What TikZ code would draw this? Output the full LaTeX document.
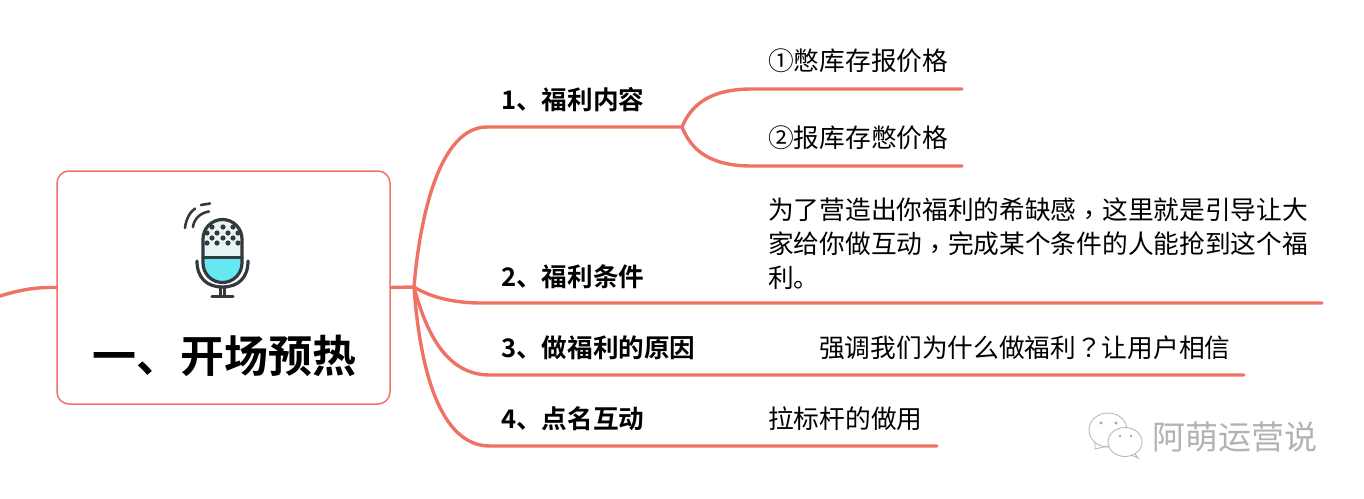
\documentclass[tikz,border=0pt]{standalone}
\usepackage{fontspec}
\setmainfont{Noto Sans CJK SC}
\newfontfamily\cjkbold{Noto Sans CJK SC Bold}
\newfontfamily\cjkpunct{Noto Sans CJK TC}
\newcommand{\lowcomma}{\raisebox{-5pt}{\cjkpunct ，}}
\definecolor{branch}{HTML}{EE7364}
\definecolor{micdark}{HTML}{333A3D}
\definecolor{miccyan}{HTML}{66E8F3}
\definecolor{miclight}{HTML}{E8F3F5}
\tikzset{
  wire/.style={draw=branch,line width=3.4pt,line cap=round},
  txt/.style={anchor=west,inner sep=0pt,font=\fontsize{25.7}{34}\selectfont},
  head/.style={anchor=west,inner sep=0pt,font=\fontsize{25.6}{34}\cjkbold},
  mic/.style={draw=micdark,line width=3.2pt,line cap=round},
  dot/.style={fill=micdark,draw=none},
}
\begin{document}
\begin{tikzpicture}[x=1pt,y=-1pt]
\useasboundingbox (0,0) rectangle (1364,498);
% central box
\node[draw=branch,line width=1.5pt,fill=white,rounded corners=12pt,minimum width=333pt,minimum height=233pt,inner sep=0pt] (root) at (223.5,287.5) {};
\node[inner sep=0pt,font=\fontsize{44}{44}\cjkbold] (title) at (224,356) {一、开场预热};
% coordinates
\coordinate (leftend) at (0,296);
\coordinate (hub) at (414,287);
\coordinate (h1a) at (487,127);
\coordinate (hub1) at (682,127);
\coordinate (a1) at (752,89);
\coordinate (a1e) at (962,89);
\coordinate (a2) at (752,166);
\coordinate (a2e) at (962,166);
\coordinate (h2a) at (482,303);
\coordinate (h2e) at (1322,303);
\coordinate (h3a) at (490,375);
\coordinate (h3e) at (1244,375);
\coordinate (h4a) at (490,446);
\coordinate (h4e) at (937,446);
% connectors
\draw[wire] (leftend) .. controls (20,290) and (35,287) .. (root.west);
\draw[wire] (root.east) -- (hub);
\draw[wire] (hub) .. controls (420,215) and (440,127) .. (h1a) -- (hub1);
\draw[wire] (hub1) .. controls (692,103) and (712,89) .. (a1) -- (a1e);
\draw[wire] (hub1) .. controls (692,152) and (712,166) .. (a2) -- (a2e);
\draw[wire] (hub) .. controls (432,298) and (455,303) .. (h2a) -- (h2e);
\draw[wire] (hub) .. controls (428,340) and (450,375) .. (h3a) -- (h3e);
\draw[wire] (hub) .. controls (420,370) and (440,446) .. (h4a) -- (h4e);
% labels
\node[head] (t1) at (501,99.5) {1、福利内容};
\node[head] (t2) at (501,276.5) {2、福利条件};
\node[head] (t3) at (501,347.5) {3、做福利的原因};
\node[head] (t4) at (501,418.5) {4、点名互动};
\node[txt] (s1) at (768,60.5) {①憋库存报价格};
\node[txt] (s2) at (768,137.5) {②报库存憋价格};
\node[txt,align=left] (p) at (768,243.5) {为了营造出你福利的希缺感\lowcomma 这里就是引导让大\\家给你做互动\lowcomma 完成某个条件的人能抢到这个福\\利。};
\node[txt] (s3) at (819,347.5) {强调我们为什么做福利{\cjkpunct ？}让用户相信};
\node[txt] (s4) at (768,418.5) {拉标杆的做用};
% microphone
\path[fill=miclight] (203,258) -- (203,239) arc[start angle=180,end angle=360,radius=19.5] -- (242,258) -- cycle;
\path[fill=miccyan] (203,258) -- (203,263) arc[start angle=180,end angle=0,radius=19.5] -- (242,258) -- cycle;
\begin{scope}
  \clip (203,258) -- (203,239) arc[start angle=180,end angle=360,radius=19.5] -- (242,258) -- cycle;
  \foreach \x/\y in {212/227,223/227,233/227,
                     207/233,217/233,228/233,238/233,
                     212/238,223/238,233/238,
                     207/243,217/243,228/243,238/243}{\fill[dot] (\x,\y) circle[radius=2.6];}
\end{scope}
\draw[mic] (203,258) -- (203,239) arc[start angle=180,end angle=360,radius=19.5] -- (242,263) arc[start angle=0,end angle=180,radius=19.5] -- cycle;
\draw[mic] (203,257.5) -- (242,257.5);
\draw[mic] (197,261) .. controls (197,278) and (207,287) .. (222.5,287) .. controls (238,287) and (248,278) .. (248,261);
\draw[mic] (220.5,287) -- (220.5,296);
\draw[mic] (224.5,287) -- (224.5,296);
\draw[mic] (212,296.5) -- (233,296.5);
\draw[mic,line width=2.6pt] (193,227) .. controls (194,219) and (200,213) .. (209,211.5);
\draw[mic,line width=2.6pt] (185,228) .. controls (186,219) and (190,212) .. (195,208.5);
\draw[mic,line width=2.6pt] (201,205) -- (210,203.5);
% watermark
\begin{scope}[draw=gray!55,line width=.9pt,fill=white]
  \path[draw] (1108,430) ellipse[x radius=19,y radius=17];
  \path[draw] (1095,442) -- (1095,449) -- (1108,446);
  \path[draw,fill=white] (1125,442) ellipse[x radius=17,y radius=14.5];
  \path[draw] (1135,454) -- (1138,458) -- (1131,455);
  \fill[gray!70] (1101,423) circle[radius=1.6] (1116,423) circle[radius=1.6] (1120,436) circle[radius=1.4] (1131,436) circle[radius=1.4];
\end{scope}
\node[txt,text=gray!60,font=\fontsize{33}{33}\selectfont] (wm) at (1152,437) {阿萌运营说};
\end{tikzpicture}
\end{document}
